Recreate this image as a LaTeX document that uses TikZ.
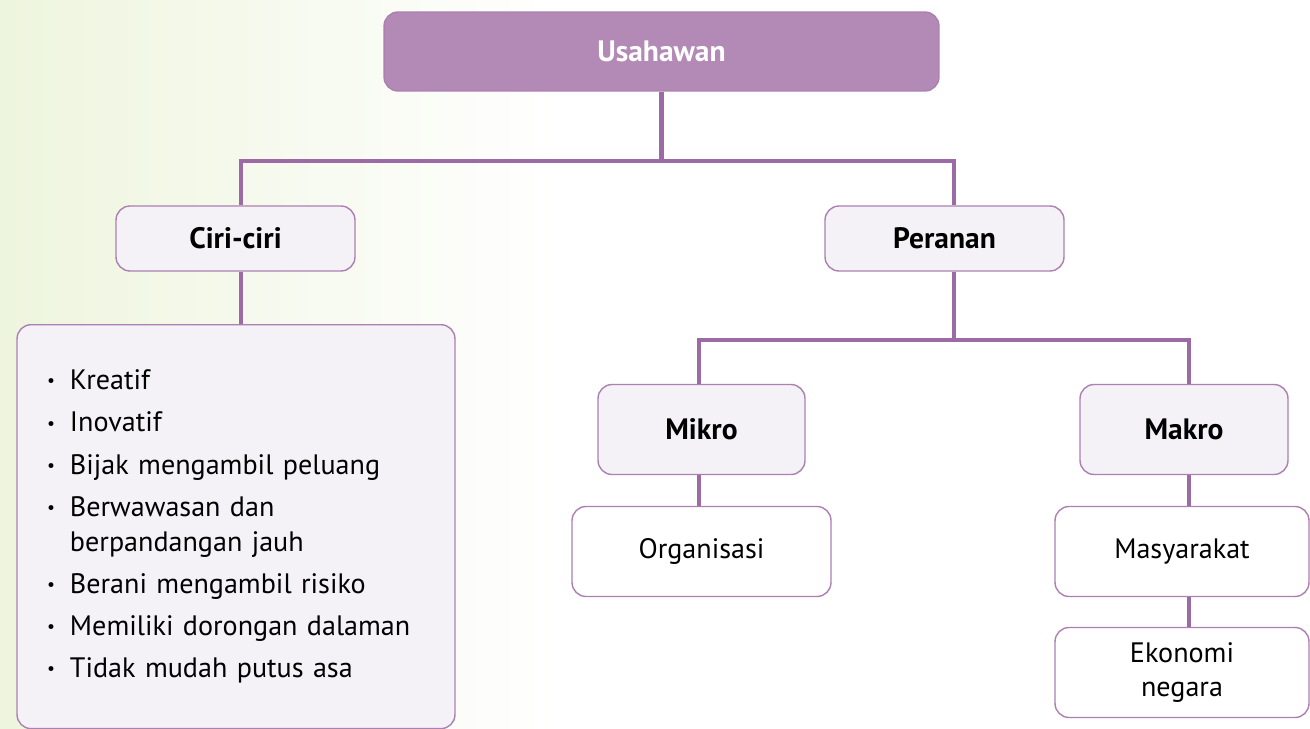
\documentclass[tikz,border=0pt]{standalone}
\usepackage{fontspec}
\setmainfont{PT Sans}
\usetikzlibrary{positioning}

\definecolor{usaFill}{HTML}{B38AB6}
\definecolor{boxLine}{HTML}{AC80B1}
\definecolor{linkCol}{HTML}{9C6AA5}
\definecolor{lightFill}{HTML}{F4F2F7}
\definecolor{greenBg}{HTML}{EEF5DE}

\newcommand{\itm}{\makebox[14.2pt][l]{\hspace{1.2pt}\raisebox{1.6pt}{\fontsize{10}{10}\selectfont\textbullet}}}

\begin{document}
\begin{tikzpicture}[
  x=0.02cm, y=-0.02cm,
  base/.style={rectangle, rounded corners=0.28cm, draw=boxLine, line width=0.8pt,
    align=center, font=\fontsize{16}{19.8}\selectfont, inner sep=0pt},
  topbox/.style={base, fill=usaFill, text=white, font=\fontsize{16.8}{19.8}\selectfont\bfseries},
  headbox/.style={base, fill=lightFill, font=\fontsize{16.8}{19.8}\selectfont\bfseries},
  leafbox/.style={base, fill=white},
  link/.style={draw=linkCol, line width=2.8pt}
]
\clip (0,0) rectangle (1310,729);
\useasboundingbox (0,0) rectangle (1310,729);

% Background
\fill[white] (0,0) rectangle (1310,729);
\shade[left color=greenBg, right color=white] (0,0) rectangle (560,729);

% Level 1
\node[topbox, minimum width=11.1cm, minimum height=1.58cm] (usa) at (661.5,51.5) {Usahawan};

% Level 2
\node[headbox, minimum width=4.78cm, minimum height=1.3cm] (ciri) at (235.5,238.5) {Ciri-ciri};
\node[headbox, minimum width=4.78cm, minimum height=1.3cm] (peranan) at (944.5,238.5) {Peranan};

% Characteristics list
\node[headbox, font=\fontsize{16}{19.8}\selectfont, align=left, anchor=north,
  text width=7.64cm, inner xsep=0.56cm, minimum height=8.08cm] (sifat) at (236,324) {%
  \begin{tabular}{@{}l@{}l@{}}
  \itm & Kreatif\\[4.2pt]
  \itm & Inovatif\\[4.2pt]
  \itm & Bijak mengambil peluang\\[4.2pt]
  \itm & Berwawasan dan\\
       & berpandangan jauh\\[4.2pt]
  \itm & Berani mengambil risiko\\[4.2pt]
  \itm & Memiliki dorongan dalaman\\[4.2pt]
  \itm & Tidak mudah putus asa
  \end{tabular}};

% Level 3
\node[headbox, minimum width=4.14cm, minimum height=1.8cm] (mikro) at (701.5,429.5) {Mikro};
\node[headbox, minimum width=4.16cm, minimum height=1.8cm] (makro) at (1184,429.5) {Makro};

% Level 4
\node[leafbox, minimum width=5.18cm, minimum height=1.8cm] (org) at (701.5,551.5) {Organisasi};
\node[leafbox, minimum width=5.08cm, minimum height=1.8cm] (masy) at (1182,551.5) {Masyarakat};
\node[leafbox, minimum width=5.08cm, minimum height=1.8cm] (eko) at (1182,672.5) {Ekonomi\\negara};

% Connectors
\coordinate (barL) at (241,161);
\coordinate (barR) at (954,161);
\coordinate (barM) at (699,340);
\coordinate (barK) at (1189,340);

\draw[link] (usa.south) -- (usa.south |- barL);
\draw[link] (ciri.north -| barL) |- (barR) -- (peranan.north -| barR);
\draw[link] (ciri.south -| barL) -- (sifat.north -| barL);
\draw[link] (peranan.south -| barR) -- (barR |- barM);
\draw[link] (mikro.north -| barM) |- (barK) -- (makro.north -| barK);
\draw[link] (mikro.south -| barM) -- (org.north -| barM);
\draw[link] (makro.south -| barK) -- (masy.north -| barK);
\draw[link] (masy.south -| barK) -- (eko.north -| barK);

\end{tikzpicture}
\end{document}
